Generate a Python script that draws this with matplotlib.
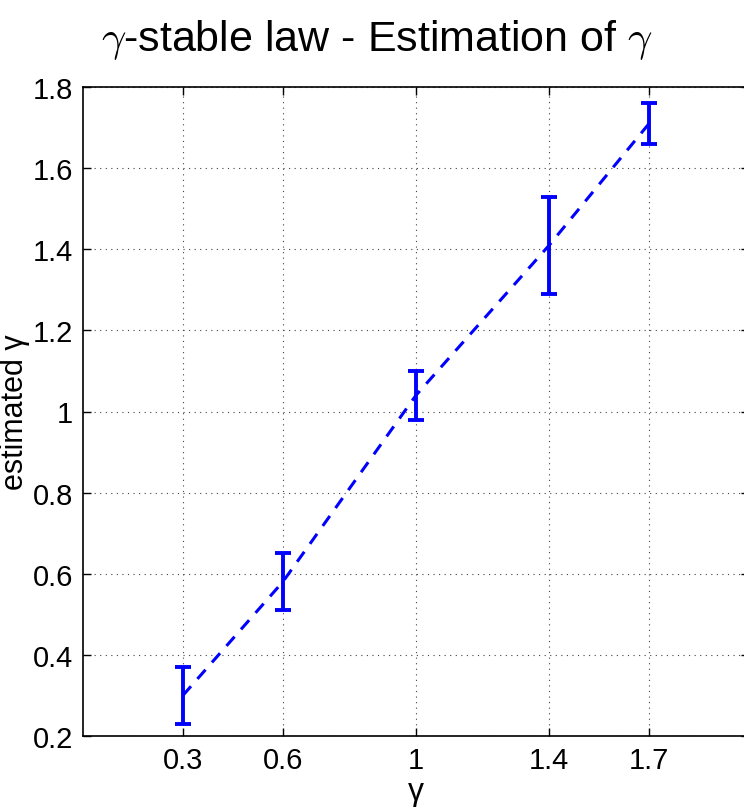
import matplotlib
matplotlib.use("Agg")
import matplotlib.pyplot as plt

plt.rcParams['font.family'] = ['Liberation Sans', 'DejaVu Sans']
plt.rcParams['mathtext.fontset'] = 'cm'

# true gamma values and estimates (mean +/- spread)
gamma_true = [0.3, 0.6, 1.0, 1.4, 1.7]
gamma_est = [0.30, 0.58, 1.04, 1.41, 1.71]
gamma_err = [0.07, 0.07, 0.06, 0.12, 0.05]

xticks = [0.3, 0.6, 1, 1.4, 1.7]
xticklabels = ['0.3', '0.6', '1', '1.4', '1.7']
yticks = [0.2, 0.4, 0.6, 0.8, 1.0, 1.2, 1.4, 1.6, 1.8]
yticklabels = ['0.2', '0.4', '0.6', '0.8', '1', '1.2', '1.4', '1.6', '1.8']

fig = plt.figure(figsize=(7.44, 8.12), dpi=100)
W, H = 744, 812
ax = fig.add_axes([83 / W, 1 - 737 / H, (749 - 83) / W, (737 - 88) / H])

ax.errorbar(gamma_true, gamma_est, yerr=gamma_err, color='#0000ff',
            linestyle='--', linewidth=2.2, elinewidth=2.8, capsize=6,
            capthick=2.8, dashes=(4, 3.2))

ax.set_xlim(0, 2)
ax.set_ylim(0.2, 1.8)
ax.set_xticks(xticks)
ax.set_xticklabels(xticklabels)
ax.set_yticks(yticks)
ax.set_yticklabels(yticklabels)
ax.tick_params(direction='in', length=6, width=1, labelsize=21,
               top=True, right=True, pad=7)
ax.grid(True, linestyle=(0, (1, 4)), color='#444444', linewidth=0.8)
for s in ax.spines.values():
    s.set_linewidth(1.2)

fig.text(377 / W, 1 - 40 / H, r'$\gamma$-stable law - Estimation of $\gamma$',
         ha='center', va='center', fontsize=31)
ax.set_xlabel('γ', fontsize=23, labelpad=2)
ax.set_ylabel('estimated γ', fontsize=22)
ax.yaxis.set_label_coords(-0.08, 0.5)

fig.savefig('out.png', dpi=100)
